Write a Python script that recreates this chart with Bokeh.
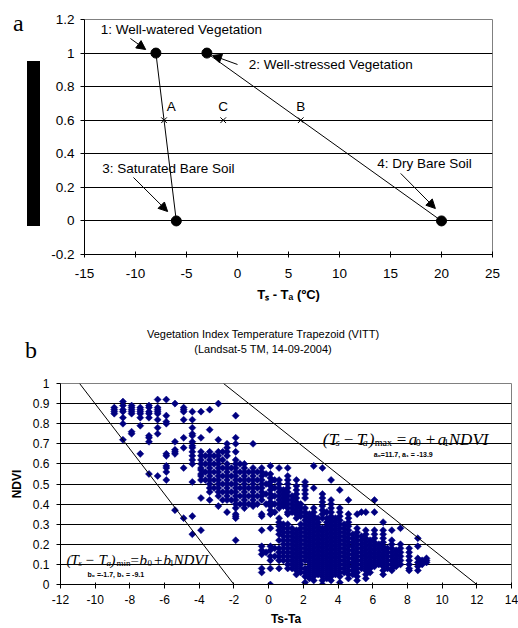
import math
from bokeh.plotting import figure
from bokeh.models import (FixedTicker, CustomJSTickFormatter, Label, Arrow, NormalHead,
                          Div, ColumnDataSource, Range1d)
from bokeh.layouts import column, row
from bokeh.core.properties import value
from bokeh.embed import file_html
from bokeh.resources import INLINE

FONT = "Liberation Sans"
SERIF = "Liberation Serif"

# ---------------- panel a data ----------------
top_x_ticks = [-15, -10, -5, 0, 5, 10, 15, 20, 25]
top_y_ticks = [-0.2, 0, 0.2, 0.4, 0.6, 0.8, 1, 1.2]

corner_x = [-8, -3, -6, 20]
corner_y = [1, 1, 0, 0]
wet_edge_x = [-8, -6]
wet_edge_y = [1, 0]
dry_edge_x = [-3, 20]
dry_edge_y = [1, 0]

cross_x = [-7.2, -1.4, 6.2]
cross_y = [0.6, 0.6, 0.6]
cross_names = ["A", "C", "B"]
cross_name_x = [-6.5, -1.4, 6.2]
cross_name_y = [0.68, 0.68, 0.68]

corner_names = ["1: Well-watered Vegetation", "2: Well-stressed Vegetation",
                "3: Saturated Bare Soil", "4: Dry Bare Soil"]
corner_name_x = [-13.4, 1.1, -13.25, 13.7]
corner_name_y = [1.139, 0.932, 0.312, 0.342]
arrow_x0 = [-10.5, 0.0, -10.2, 16.0]
arrow_y0 = [1.087, 0.932, 0.259, 0.283]
arrow_x1 = [-9.0, -2.45, -6.85, 19.4]
arrow_y1 = [1.021, 0.986, 0.056, 0.074]

# ---------------- panel b data ----------------
bot_x_ticks = [-12, -10, -8, -6, -4, -2, 0, 2, 4, 6, 8, 10, 12, 14]
bot_y_ticks = [0, 0.1, 0.2, 0.3, 0.4, 0.5, 0.6, 0.7, 0.8, 0.9, 1]

min_line_x = [-10.9, -2.0]
min_line_y = [1, 0]
max_line_x = [-2.6, 12.0]
max_line_y = [1, 0]

col_x = [-8.9, -8.4, -7.9, -7.4, -6.9, -6.4, -5.9, -5.4, -4.9, -4.4, -3.9, -3.4, -2.9,
         -2.4, -1.9, -1.4, -0.9, -0.4, 0.1, 0.6, 1.1, 1.6, 2.1, 2.6, 3.1, 3.6, 4.1,
         4.6, 5.1, 5.6, 6.1, 6.6, 7.1, 7.6, 8.1, 8.6, 9.1,
         -3.65, -3.15, -2.65, -2.15, -1.65, -1.15, -0.65, -0.15, 0.35,
         0.85, 1.35, 1.85, 2.35, 2.85, 3.35, 3.85, 4.35, 4.85,
         5.35, 5.85, 6.35, 6.85, 7.35, 8.85]
col_y = [
    [0.88, 0.87, 0.86, 0.85],
    [0.91, 0.89, 0.87, 0.86, 0.83, 0.80, 0.72],
    [0.89, 0.88, 0.87, 0.86, 0.85, 0.76, 0.75],
    [0.88, 0.87, 0.86, 0.85, 0.83, 0.79, 0.65],
    [0.89, 0.88, 0.86, 0.85, 0.83, 0.74, 0.73, 0.71, 0.55],
    [0.92, 0.88, 0.87, 0.86, 0.85, 0.82, 0.78, 0.75, 0.54],
    [0.92, 0.84, 0.81, 0.80, 0.65, 0.64, 0.59, 0.58, 0.56, 0.52],
    [0.90, 0.71, 0.67, 0.66, 0.65, 0.37],
    [0.88, 0.87, 0.86, 0.82, 0.73, 0.68, 0.58, 0.33],
    [0.86, 0.82, 0.78, 0.75, 0.74, 0.71, 0.69, 0.68, 0.66, 0.64, 0.62, 0.60, 0.51, 0.34, 0.25],
    [0.86, 0.73, 0.66, 0.64, 0.62, 0.60, 0.58, 0.57, 0.55, 0.54, 0.52, 0.43, 0.27],
    [0.87, 0.77, 0.66, 0.64, 0.62, 0.60, 0.58, 0.56, 0.54, 0.52, 0.50, 0.48, 0.46, 0.42],
    [0.90, 0.72, 0.66, 0.64, 0.62, 0.60, 0.58, 0.56, 0.54, 0.52, 0.50, 0.48, 0.46, 0.44, 0.39],
    [0.70, 0.68, 0.66, 0.64, 0.60, 0.58, 0.56, 0.54, 0.52, 0.50, 0.48, 0.46, 0.44, 0.42, 0.36],
    [0.84, 0.73, 0.70, 0.66, 0.62, 0.60, 0.58, 0.56, 0.54, 0.52, 0.50, 0.48, 0.46, 0.44, 0.42,
     0.40, 0.38, 0.35, 0.34, 0.33, 0.22],
    [0.60, 0.58, 0.56, 0.54, 0.52, 0.50, 0.48, 0.46, 0.44, 0.42, 0.40, 0.38],
    [0.70, 0.58, 0.56, 0.54, 0.52, 0.50, 0.48, 0.46, 0.44, 0.42, 0.40, 0.39],
    [0.58, 0.56, 0.54, 0.52, 0.50, 0.48, 0.46, 0.44, 0.42, 0.35, 0.34, 0.27, 0.19, 0.17, 0.15,
     0.08, 0.06],
    [0.59, 0.55, 0.53, 0.51, 0.49, 0.47, 0.45, 0.43, 0.41, 0.39, 0.37, 0.35, 0.28, 0.19, 0.17,
     0.14, 0.12, 0.08, 0.0],
    [0.58, 0.52, 0.50, 0.48, 0.46, 0.44, 0.42, 0.40, 0.38, 0.33, 0.31, 0.29, 0.27, 0.25, 0.22,
     0.18, 0.16, 0.14, 0.12, 0.08],
    [0.58, 0.54, 0.52, 0.50, 0.48, 0.46, 0.44, 0.42, 0.40, 0.38, 0.36, 0.35, 0.30, 0.28, 0.26,
     0.24, 0.22, 0.20, 0.18, 0.16, 0.14, 0.12, 0.10, 0.08],
    [0.52, 0.49, 0.47, 0.45, 0.43, 0.41, 0.39, 0.37, 0.35, 0.33, 0.27, 0.25, 0.23, 0.21, 0.19,
     0.17, 0.15, 0.13, 0.11, 0.09, 0.07, 0.05],
    [0.51, 0.49, 0.47, 0.45, 0.43, 0.38, 0.36, 0.34, 0.32, 0.30, 0.28, 0.26, 0.24, 0.22, 0.20,
     0.18, 0.16, 0.14, 0.12, 0.08, 0.06, 0.04, 0.01],
    [0.59, 0.48, 0.38, 0.36, 0.34, 0.32, 0.30, 0.28, 0.26, 0.24, 0.22, 0.20, 0.18, 0.16, 0.14,
     0.12, 0.10, 0.08, 0.06, 0.04, 0.02],
    [0.58, 0.45, 0.43, 0.41, 0.39, 0.37, 0.35, 0.33, 0.28, 0.26, 0.24, 0.22, 0.20, 0.18, 0.16,
     0.14, 0.12, 0.10, 0.08, 0.06, 0.04, 0.02, 0.0],
    [0.52, 0.42, 0.40, 0.38, 0.36, 0.34, 0.32, 0.30, 0.28, 0.26, 0.24, 0.22, 0.20, 0.18, 0.16,
     0.14, 0.12, 0.10, 0.08, 0.06, 0.04, 0.02],
    [0.47, 0.38, 0.36, 0.34, 0.32, 0.30, 0.28, 0.26, 0.24, 0.22, 0.20, 0.18, 0.16, 0.14, 0.12,
     0.10, 0.08, 0.06, 0.04, 0.01],
    [0.42, 0.35, 0.33, 0.31, 0.29, 0.27, 0.25, 0.23, 0.21, 0.19, 0.17, 0.15, 0.13, 0.11, 0.09,
     0.07, 0.05, 0.03],
    [0.35, 0.28, 0.26, 0.24, 0.22, 0.20, 0.18, 0.16, 0.14, 0.12, 0.10, 0.08, 0.06, 0.04, 0.02],
    [0.36, 0.27, 0.25, 0.23, 0.21, 0.19, 0.17, 0.15, 0.13, 0.11, 0.09, 0.07, 0.05, 0.03],
    [0.42, 0.36, 0.27, 0.25, 0.23, 0.21, 0.19, 0.17, 0.15, 0.13, 0.11, 0.09],
    [0.31, 0.27, 0.25, 0.23, 0.21, 0.19, 0.17, 0.15, 0.13, 0.11, 0.09, 0.07, 0.05],
    [0.27, 0.22, 0.20, 0.18, 0.16, 0.14, 0.12, 0.10, 0.08, 0.07],
    [0.28, 0.20, 0.18, 0.16, 0.14, 0.12, 0.10],
    [0.18, 0.16, 0.14, 0.12, 0.10, 0.08, 0.07],
    [0.23, 0.19, 0.13, 0.11, 0.09, 0.07],
    [0.13, 0.12, 0.11],
    [0.64, 0.60, 0.56, 0.52],
    [0.64, 0.60, 0.56, 0.52, 0.48],
    [0.66, 0.62, 0.58, 0.54, 0.50, 0.46, 0.42],
    [0.58, 0.54, 0.50, 0.46, 0.42],
    [0.60, 0.56, 0.52, 0.48, 0.44, 0.40],
    [0.56, 0.52, 0.48, 0.44, 0.40],
    [0.56, 0.52, 0.48, 0.44, 0.40],
    [0.55, 0.50, 0.45, 0.40, 0.16],
    [0.52, 0.48, 0.44, 0.40, 0.36, 0.18, 0.14],
    [0.47, 0.45, 0.43, 0.41, 0.39, 0.30, 0.28, 0.26, 0.24, 0.22, 0.20, 0.18, 0.16, 0.14, 0.12],
    [0.44, 0.42, 0.40, 0.38, 0.36, 0.28, 0.26, 0.24, 0.22, 0.20, 0.18, 0.16, 0.14, 0.12, 0.10,
     0.08],
    [0.40, 0.38, 0.36, 0.34, 0.30, 0.28, 0.26, 0.24, 0.22, 0.20, 0.18, 0.16, 0.14, 0.12, 0.10,
     0.08, 0.06],
    [0.35, 0.33, 0.31, 0.29, 0.27, 0.25, 0.23, 0.21, 0.19, 0.17, 0.15, 0.13, 0.11, 0.09, 0.07,
     0.05, 0.03],
    [0.33, 0.31, 0.29, 0.27, 0.25, 0.23, 0.21, 0.19, 0.17, 0.15, 0.13, 0.11, 0.09, 0.07, 0.05],
    [0.36, 0.33, 0.31, 0.29, 0.27, 0.25, 0.23, 0.21, 0.19, 0.17, 0.15, 0.13, 0.11, 0.09, 0.07,
     0.05, 0.03],
    [0.33, 0.31, 0.29, 0.27, 0.25, 0.23, 0.21, 0.19, 0.17, 0.15, 0.13, 0.11, 0.09, 0.07, 0.05],
    [0.30, 0.28, 0.26, 0.24, 0.22, 0.20, 0.18, 0.16, 0.14, 0.12, 0.10, 0.08, 0.06],
    [0.25, 0.23, 0.21, 0.19, 0.17, 0.15, 0.13, 0.11, 0.09, 0.07, 0.05],
    [0.36, 0.24, 0.22, 0.20, 0.18, 0.16, 0.14, 0.12, 0.10, 0.08],
    [0.22, 0.20, 0.18, 0.16, 0.14, 0.12, 0.10, 0.08, 0.06],
    [0.20, 0.18, 0.16, 0.14, 0.12, 0.10],
    [0.18, 0.16, 0.14, 0.12, 0.10, 0.08],
    [0.17, 0.15, 0.13, 0.11, 0.09],
    [0.12, 0.10],
]

title_lines = ["Vegetation Index Temperature Trapezoid (VITT)", "(Landsat-5 TM, 14-09-2004)"]
max_coef = "a₀=11.7, a₁ = -13.9"
min_coef = "b₀ =-1.7, b₁ = -9.1"

# formula pieces: (text, dx px, drop px, font size, style)
max_formula = [("(", 0, 0, "17px", "italic"), ("T", 6, 0, "17px", "italic"),
               ("s", 13, 3, "10px", "italic"), ("−", 21, 0, "17px", "normal"),
               ("T", 34, 0, "17px", "italic"), ("a", 40, 3, "10px", "italic"),
               (")", 46, 0, "17px", "italic"), ("max", 52, 3, "10px", "normal"),
               ("=", 74, 0, "17px", "normal"), ("a", 86, 0, "17px", "italic"),
               ("0", 93, 3, "10px", "normal"), ("+", 103, 0, "17px", "normal"),
               ("a", 115, 0, "17px", "italic"), ("1", 121, 3, "10px", "normal"),
               ("NDVI", 126, 0, "17px", "italic")]
min_formula = [("(", 0, 0, "15px", "italic"), ("T", 4, 0, "15px", "italic"),
               ("s", 12, 3, "9px", "italic"), ("−", 19, 0, "15px", "normal"),
               ("T", 32, 0, "15px", "italic"), ("a", 40, 3, "9px", "italic"),
               (")", 44, 0, "15px", "italic"), ("min", 50, 3, "9px", "normal"),
               ("=", 64, 0, "15px", "normal"), ("b", 73, 0, "15px", "italic"),
               ("0", 81, 3, "9px", "normal"), ("+", 87.5, 0, "15px", "normal"),
               ("b", 97, 0, "15px", "italic"), ("1", 103, 3, "9px", "normal"),
               ("NDVI", 107, 0, "15px", "italic")]

fmt = CustomJSTickFormatter(code="return tick.toString();")


def style_axes(p, xt, yt, fs):
    for ax in (p.xaxis[0], p.yaxis[0]):
        ax.axis_line_color = "black"
        ax.major_tick_line_color = "black"
        ax.minor_tick_line_color = None
        ax.major_label_text_font = FONT
        ax.major_label_text_font_size = fs
        ax.major_label_text_color = "black"
        ax.axis_label_text_font = FONT
        ax.axis_label_text_font_size = "12px"
        ax.axis_label_text_font_style = "bold"
        ax.axis_label_text_color = "black"
        ax.formatter = fmt
    p.xaxis[0].ticker = FixedTicker(ticks=xt)
    p.yaxis[0].ticker = FixedTicker(ticks=yt)
    p.ygrid[0].ticker = FixedTicker(ticks=yt)
    p.ygrid[0].grid_line_color = "black"
    p.ygrid[0].grid_line_width = 1
    p.xgrid[0].visible = False
    p.outline_line_color = "#808080"
    p.background_fill_color = "white"
    p.border_fill_color = "white"


# ---------------- panel a ----------------
p1 = figure(frame_width=408, frame_height=235, output_backend="svg", toolbar_location=None,
            x_range=Range1d(-15, 25), y_range=Range1d(-0.2, 1.2),
            min_border_left=44, min_border_right=26, min_border_top=19, min_border_bottom=56)
style_axes(p1, top_x_ticks, top_y_ticks, "13.5px")
p1.xaxis.axis_label = "Tₛ - Tₐ (ºC)"
p1.xaxis.axis_label_text_font_size = "13px"
p1.xaxis.major_tick_in = 3
p1.xaxis.major_tick_out = 3
p1.xaxis.major_label_standoff = 11
p1.xaxis.axis_label_standoff = 6
p1.yaxis.major_tick_in = 0
p1.yaxis.major_tick_out = 4
p1.yaxis.major_label_standoff = 6

p1.line(wet_edge_x, wet_edge_y, line_color="black", line_width=1)
p1.line(dry_edge_x, dry_edge_y, line_color="black", line_width=1)
p1.scatter(corner_x, corner_y, marker="circle", size=10, fill_color="black", line_color="black")
p1.scatter(cross_x, cross_y, marker="x", size=8, line_color="black", line_width=1)
p1.text(x=cross_name_x, y=cross_name_y, text=cross_names, text_font=value(FONT),
        text_font_size="13.5px", text_align="center", text_baseline="middle", text_color="black")
p1.text(x=corner_name_x, y=corner_name_y, text=corner_names, text_font=value(FONT),
        text_font_size="13.5px", text_align="left", text_baseline="middle", text_color="black")
arrow_src = ColumnDataSource(dict(x0=arrow_x0, y0=arrow_y0, x1=arrow_x1, y1=arrow_y1))
p1.add_layout(Arrow(end=NormalHead(size=9, fill_color="black", line_color="black"),
                    source=arrow_src, x_start="x0", y_start="y0", x_end="x1", y_end="y1",
                    line_color="black", line_width=1))

side = Div(width=40, height=310, margin=(0, 0, 0, 0), text=(
    '<div style="position:relative;width:40px;height:310px;margin:0;padding:0;">'
    '<div style="position:absolute;left:13px;top:9px;font-family:\'Liberation Serif\';'
    'font-size:24px;line-height:28px;color:#000;">a</div>'
    '<div style="position:absolute;left:27px;top:61px;width:13px;height:165px;background:#000;"></div>'
    '</div>'))

# ---------------- panel b ----------------
band = Div(width=518, height=65, margin=(0, 0, 0, 0), text=(
    '<div style="position:relative;width:518px;height:65px;margin:0;padding:0;color:#000;">'
    '<div style="position:absolute;left:0;top:17px;width:526px;text-align:center;'
    'font-family:\'Liberation Sans\';font-size:11px;line-height:15px;">'
    + title_lines[0] + '<br>' + title_lines[1] + '</div>'
    '<div style="position:absolute;left:25px;top:26px;font-family:\'Liberation Serif\';'
    'font-size:24px;line-height:28px;">b</div>'
    '</div>'))

p2 = figure(frame_width=451, frame_height=201, output_backend="svg", toolbar_location=None,
            x_range=Range1d(-12, 14), y_range=Range1d(0, 1),
            min_border_left=60, min_border_right=7, min_border_top=8, min_border_bottom=44)
style_axes(p2, bot_x_ticks, bot_y_ticks, "12px")
p2.xaxis.axis_label = "Ts-Ta"
p2.yaxis.axis_label = "NDVI"
p2.xaxis.major_tick_in = 2
p2.xaxis.major_tick_out = 4
p2.xaxis.major_label_standoff = 6
p2.xaxis.axis_label_standoff = 5
p2.yaxis.major_tick_in = 0
p2.yaxis.major_tick_out = 4
p2.yaxis.major_label_standoff = 7
p2.yaxis.axis_label_standoff = 6

xs, ys = [], []
for cx, cys in zip(col_x, col_y):
    for cy in cys:
        xs.append(cx)
        ys.append(cy)
p2.scatter(xs, ys, marker="square", size=5, angle=math.pi / 4,
           fill_color="#000080", line_color="#000080", line_width=0.5)
p2.line(min_line_x, min_line_y, line_color="black", line_width=1)
p2.line(max_line_x, max_line_y, line_color="black", line_width=1)

PX_X = 451 / 26.0
PX_Y = 201 / 1.0


def add_formula(p, x0, y0, pieces):
    for txt, dx, drop, size, style in pieces:
        p.add_layout(Label(x=x0 + dx / PX_X, y=y0 - drop / PX_Y, text=txt, text_font=SERIF,
                           text_font_style=style, text_font_size=size,
                           text_baseline="alphabetic", text_color="black"))


add_formula(p2, 3.12, 0.72, max_formula)
add_formula(p2, -11.654, 0.123, min_formula)
p2.add_layout(Label(x=6.06, y=0.645, text=max_coef, text_font=FONT, text_font_style="bold",
                    text_font_size="7px", text_baseline="middle", text_color="black"))
p2.add_layout(Label(x=-10.44, y=0.048, text=min_coef, text_font=FONT, text_font_style="bold",
                    text_font_size="7px", text_baseline="middle", text_color="black"))

layout = column(row(side, p1, spacing=0), band, p2, spacing=0)
open("out.html", "w").write(file_html(layout, INLINE))
